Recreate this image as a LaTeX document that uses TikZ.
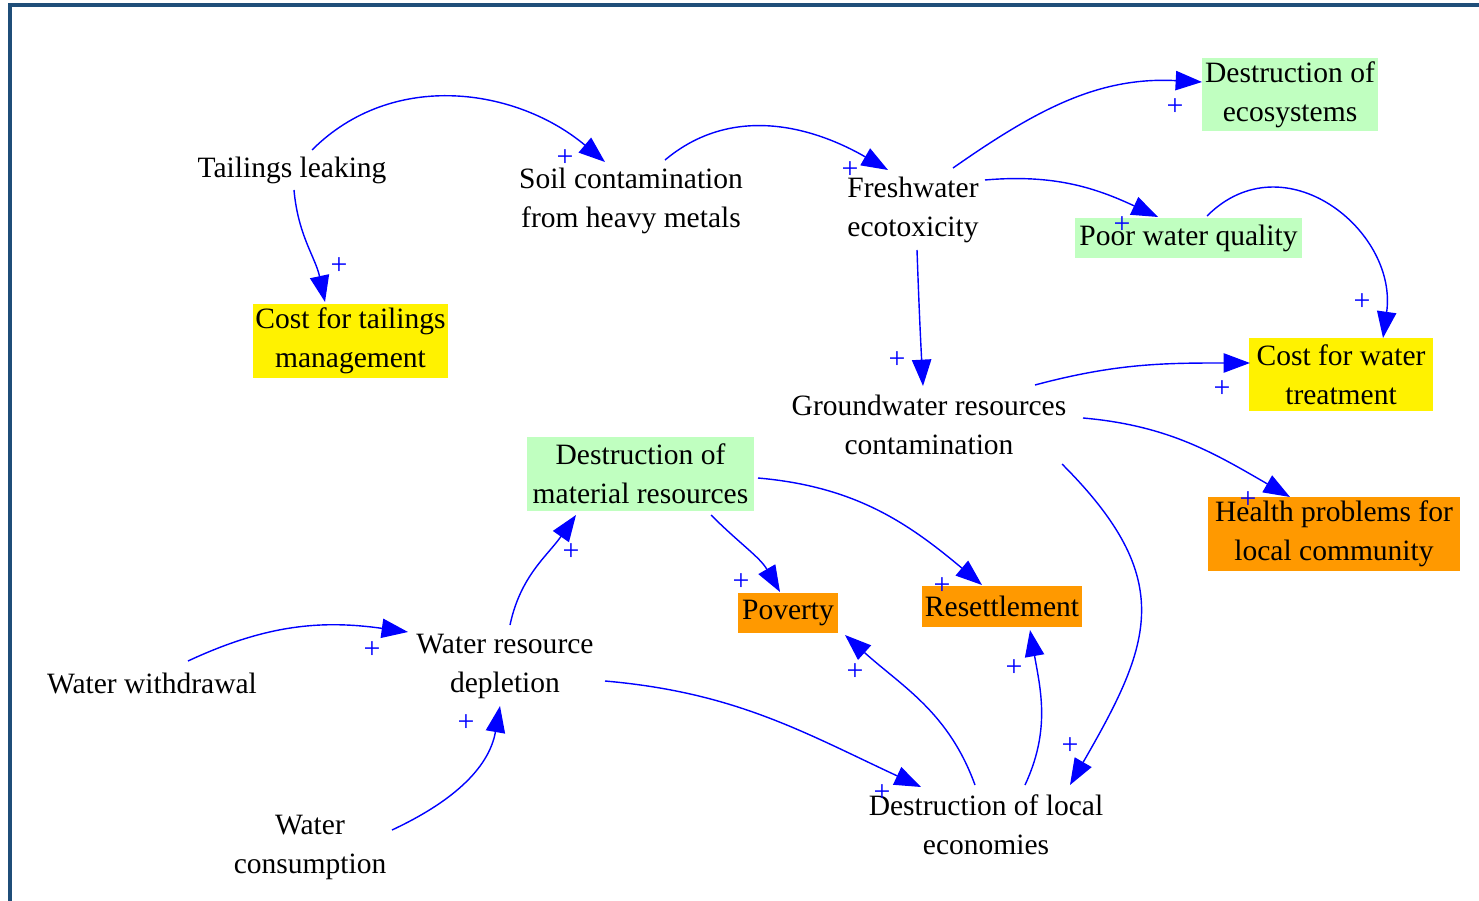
\documentclass[tikz,border=0pt]{standalone}
\usepackage{fontspec}
\setmainfont{Liberation Serif}
\newfontfamily\cldfont{Liberation Serif}
\usetikzlibrary{arrows.meta}
\definecolor{frameblue}{RGB}{31,78,121}
\definecolor{boxgreen}{RGB}{192,255,192}
\definecolor{boxorange}{RGB}{255,153,0}
\tikzset{
    x=0.02cm, y=0.02cm, % one unit is one pixel of the original
    factor/.style={font=\cldfont\fontsize{16.8}{22.2}\selectfont, align=center, inner sep=1pt}, % plain variable
    greenbox/.style={factor, fill=boxgreen, minimum width=#1}, % impacts on nature
    yellowbox/.style={factor, fill=yellow, minimum width=#1}, % costs
    orangebox/.style={factor, fill=boxorange, minimum width=#1}, % social impacts
    link/.style={blue, line width=0.8pt, -{Triangle[length=15pt,width=11pt]}}, % causal link
    polarity/.style={blue, font=\cldfont\fontsize{17}{17}\selectfont, inner sep=0pt}, % sign of the link
}
\begin{document}
\begin{tikzpicture}
\useasboundingbox (0,0) rectangle (1479,-901);
\draw[frameblue, line width=0.08cm] (10,-901) -- (10,-5) -- (1479,-5);

% variables
\node[factor] (tail) at (292,-170) {Tailings leaking};
\node[factor] (soil) at (631,-201) {Soil contamination\\from heavy metals};
\node[factor] (fresh) at (913,-210) {Freshwater\\ecotoxicity};
\node[greenbox=3.52cm, minimum height=1.46cm] (eco) at (1290,-94.5) {Destruction of\\ecosystems};
\node[greenbox=4.54cm, minimum height=0.8cm] (poor) at (1188.5,-238) {Poor water quality};
\node[yellowbox=3.9cm, minimum height=1.48cm] (ctail) at (350.5,-341) {Cost for tailings\\management};
\node[yellowbox=3.68cm, minimum height=1.46cm] (cwater) at (1341,-374.5) {Cost for water\\treatment};
\node[factor] (ground) at (929,-425) {Groundwater resources\\contamination};
\node[greenbox=4.54cm, minimum height=1.48cm] (dmat) at (640.5,-474) {Destruction of\\material resources};
\node[orangebox=5.04cm, minimum height=1.48cm] (health) at (1334,-534) {Health problems for\\local community};
\node[orangebox=2cm, minimum height=0.8cm] (poverty) at (788,-613) {Poverty};
\node[orangebox=3.2cm, minimum height=0.82cm] (resettle) at (1002,-606.5) {Resettlement};
\node[factor] (wdraw) at (152,-683) {Water withdrawal};
\node[factor] (wdep) at (505,-666) {Water resource\\depletion};
\node[factor] (wcons) at (310,-847) {Water\\consumption};
\node[factor] (dlocal) at (986,-825) {Destruction of local\\economies};

% causal links
\draw[link] ([shift={(20,20)}]tail.center) to[out=45, in=140] ([shift={(-26,39)}]soil.center);
\draw[link] ([shift={(2,-20)}]tail.center) to[out=-85, in=102] ([shift={(-25.5,39)}]ctail.center);
\draw[link] ([shift={(34,41)}]soil.center) to[out=40, in=150] ([shift={(-25,40)}]fresh.center);
\draw[link] ([shift={(40,42)}]fresh.center) to[out=35, in=177] ([shift={(-88,12.5)}]eco.center);
\draw[link] ([shift={(72,30)}]fresh.center) to[out=5, in=155] ([shift={(-30.5,21)}]poor.center);
\draw[link] ([shift={(18.5,22)}]poor.center) to[out=45, in=82, looseness=1.3] ([shift={(42,36.5)}]cwater.center);
\draw[link] ([shift={(4,-40)}]fresh.center) to[out=-88, in=93] ([shift={(-6,39)}]ground.center);
\draw[link] ([shift={(106,40)}]ground.center) to[out=15, in=180] ([shift={(-91,11.5)}]cwater.center);
\draw[link] ([shift={(154,7)}]ground.center) to[out=-5, in=150] ([shift={(-44,37)}]health.center);
\draw[link] ([shift={(133,-39)}]ground.center) to[out=-45, in=60, looseness=1.3] ([shift={(84,40)}]dlocal.center);
\draw[link] ([shift={(70.5,-41)}]dmat.center) to[out=-45, in=120] ([shift={(-8,21)}]poverty.center);
\draw[link] ([shift={(117.5,-4)}]dmat.center) to[out=-5, in=140] ([shift={(-20,21.5)}]resettle.center);
\draw[link] ([shift={(5,41)}]wdep.center) to[out=78, in=-125] ([shift={(-64.5,-41)}]dmat.center);
\draw[link] ([shift={(36,22)}]wdraw.center) to[out=25, in=172] ([shift={(-97,34)}]wdep.center);
\draw[link] ([shift={(82,17)}]wcons.center) to[out=25, in=-100] ([shift={(-5,-40)}]wdep.center);
\draw[link] ([shift={(100,-15)}]wdep.center) to[out=-5, in=155] ([shift={(-65,38)}]dlocal.center);
\draw[link] ([shift={(-11,40)}]dlocal.center) to[out=110, in=-42] ([shift={(57,-22)}]poverty.center);
\draw[link] ([shift={(39,40)}]dlocal.center) to[out=65, in=-80] ([shift={(28,-23.5)}]resettle.center);

% link signs
\node[polarity] (p1) at (565,-158) {+};
\node[polarity] (p2) at (339,-266) {+};
\node[polarity] (p3) at (850,-170) {+};
\node[polarity] (p4) at (1175,-107) {+};
\node[polarity] (p5) at (1122,-225) {+};
\node[polarity] (p6) at (1362,-302) {+};
\node[polarity] (p7) at (897,-360) {+};
\node[polarity] (p8) at (1222,-389) {+};
\node[polarity] (p9) at (1248,-500) {+};
\node[polarity] (p10) at (1070,-746) {+};
\node[polarity] (p11) at (741,-582) {+};
\node[polarity] (p12) at (942,-586) {+};
\node[polarity] (p13) at (571,-552) {+};
\node[polarity] (p14) at (372,-650) {+};
\node[polarity] (p15) at (466,-723) {+};
\node[polarity] (p16) at (882,-793) {+};
\node[polarity] (p17) at (855,-672) {+};
\node[polarity] (p18) at (1014,-668) {+};
\end{tikzpicture}
\end{document}
